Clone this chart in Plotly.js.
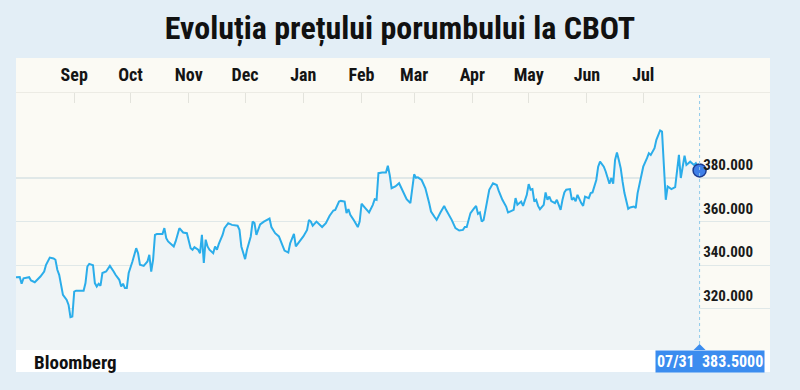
<!DOCTYPE html>
<html>
<head>
<meta charset="utf-8">
<script src="https://cdn.plot.ly/plotly-3.0.1.min.js"></script>
<style>
  html, body { margin: 0; padding: 0; background: #e3eef6; }
  #chart { width: 800px; height: 390px; }
</style>
</head>
<body>
<div id="chart"></div>
<script>
// ---- data (CBOT corn) ----
const dates = [
  "2016-08-01","2016-08-03","2016-08-04","2016-08-05","2016-08-08","2016-08-09","2016-08-11","2016-08-14","2016-08-16","2016-08-17",
  "2016-08-19","2016-08-21","2016-08-22","2016-08-23","2016-08-24","2016-08-25","2016-08-26","2016-08-28","2016-08-29","2016-08-30",
  "2016-08-31","2016-09-01","2016-09-02","2016-09-06","2016-09-07","2016-09-08","2016-09-09","2016-09-11","2016-09-12","2016-09-13",
  "2016-09-14","2016-09-15","2016-09-16","2016-09-18","2016-09-20","2016-09-22","2016-09-23","2016-09-25","2016-09-26","2016-09-27",
  "2016-09-28","2016-09-29","2016-09-30","2016-10-02","2016-10-04","2016-10-05","2016-10-06","2016-10-08","2016-10-10","2016-10-11",
  "2016-10-12","2016-10-13","2016-10-14","2016-10-15","2016-10-18","2016-10-19","2016-10-20","2016-10-21","2016-10-24","2016-10-25",
  "2016-10-27","2016-10-29","2016-10-31","2016-11-02","2016-11-03","2016-11-04","2016-11-06","2016-11-07","2016-11-08","2016-11-09",
  "2016-11-10","2016-11-11","2016-11-12","2016-11-14","2016-11-15","2016-11-16","2016-11-17","2016-11-19","2016-11-20","2016-11-22",
  "2016-11-24","2016-11-27","2016-11-28","2016-11-29","2016-11-30","2016-12-01","2016-12-02","2016-12-04","2016-12-05","2016-12-06",
  "2016-12-07","2016-12-09","2016-12-11","2016-12-13","2016-12-14","2016-12-15","2016-12-17","2016-12-19","2016-12-21","2016-12-22",
  "2016-12-24","2016-12-25","2016-12-27","2016-12-28","2016-12-30","2017-01-01","2017-01-03","2017-01-04","2017-01-05","2017-01-06",
  "2017-01-08","2017-01-11","2017-01-13","2017-01-15","2017-01-17","2017-01-18","2017-01-20","2017-01-21","2017-01-23","2017-01-24",
  "2017-01-25","2017-01-26","2017-01-28","2017-01-30","2017-01-31","2017-02-01","2017-02-03","2017-02-05","2017-02-07","2017-02-08",
  "2017-02-09","2017-02-10","2017-02-12","2017-02-14","2017-02-15","2017-02-16","2017-02-17","2017-02-19","2017-02-21","2017-02-23",
  "2017-02-25","2017-02-27","2017-02-28","2017-03-01","2017-03-02","2017-03-03","2017-03-05","2017-03-07","2017-03-09","2017-03-10",
  "2017-03-12","2017-03-13","2017-03-15","2017-03-17","2017-03-18","2017-03-21","2017-03-23","2017-03-25","2017-03-27","2017-03-28",
  "2017-03-29","2017-03-31","2017-04-02","2017-04-03","2017-04-04","2017-04-05","2017-04-06","2017-04-07","2017-04-09","2017-04-10",
  "2017-04-12","2017-04-14","2017-04-15","2017-04-17","2017-04-19","2017-04-20","2017-04-21","2017-04-23","2017-04-24","2017-04-25",
  "2017-04-27","2017-04-28","2017-04-30","2017-05-01","2017-05-02","2017-05-03","2017-05-04","2017-05-05","2017-05-06","2017-05-07",
  "2017-05-09","2017-05-10","2017-05-11","2017-05-12","2017-05-13","2017-05-15","2017-05-16","2017-05-17","2017-05-18","2017-05-19",
  "2017-05-20","2017-05-21","2017-05-23","2017-05-24","2017-05-25","2017-05-26","2017-05-27","2017-05-29","2017-05-30","2017-05-31",
  "2017-06-02","2017-06-03","2017-06-04","2017-06-06","2017-06-07","2017-06-08","2017-06-10","2017-06-11","2017-06-12","2017-06-13",
  "2017-06-14","2017-06-15","2017-06-16","2017-06-17","2017-06-18","2017-06-19","2017-06-20","2017-06-21","2017-06-23","2017-06-24",
  "2017-06-26","2017-06-27","2017-06-28","2017-06-30","2017-07-01","2017-07-03","2017-07-04","2017-07-05","2017-07-07","2017-07-08",
  "2017-07-10","2017-07-11","2017-07-12","2017-07-13","2017-07-14","2017-07-15","2017-07-16","2017-07-18","2017-07-19","2017-07-20",
  "2017-07-21","2017-07-22","2017-07-23","2017-07-24","2017-07-25","2017-07-26","2017-07-28","2017-07-29","2017-07-31"
];
const prices = [
  334.5,334.6,331.5,334.0,334.5,333.0,332.2,334.8,337.1,340.2,
  343.5,343.1,342.5,337.9,335.6,330.2,326.4,324.1,321.8,316.2,
  316.5,327.9,328.3,328.3,331.8,339.4,340.6,340.0,331.8,330.2,
  331.5,330.6,336.4,337.1,339.7,337.1,335.6,333.3,330.2,331.5,
  329.5,329.5,336.4,341.7,347.8,345.5,340.2,339.7,341.7,344.8,
  337.1,342.5,353.9,354.3,354.3,357.0,352.4,350.9,348.6,350.9,
  357.0,355.0,354.7,347.8,347.1,348.3,347.1,345.5,353.9,341.0,
  351.7,348.6,347.1,345.5,348.6,347.1,349.8,353.9,357.0,359.3,
  358.5,358.1,356.2,348.6,345.5,342.8,347.1,353.2,360.0,359.3,
  353.9,358.7,360.0,360.8,361.4,357.5,354.7,353.2,348.6,346.7,
  345.8,350.1,354.4,348.6,350.9,353.2,356.2,360.8,360.0,358.1,
  360.0,357.5,359.3,362.7,365.1,365.4,369.2,369.5,369.2,363.9,
  365.7,363.1,360.5,357.5,360.0,368.2,366.2,364.2,367.7,370.3,
  370.0,382.2,382.5,382.5,385.6,381.4,375.3,376.1,377.6,373.8,
  370.3,368.5,376.1,381.7,380.1,380.3,379.1,375.3,368.5,364.6,
  362.0,360.8,364.2,367.2,365.4,360.8,357.0,355.9,356.2,357.5,
  357.5,363.9,366.2,367.2,363.6,364.2,360.0,360.8,370.0,374.6,
  377.6,376.8,374.2,370.0,366.9,364.2,364.6,365.4,370.8,367.7,
  369.2,367.2,372.3,377.2,374.6,374.9,369.2,370.0,367.2,365.7,
  367.7,373.4,370.0,371.5,369.4,368.5,370.0,367.7,365.4,370.0,
  373.4,374.6,374.9,370.0,370.8,369.4,372.3,368.5,367.2,371.5,
  370.8,373.1,373.4,379.1,385.2,387.5,385.2,383.0,380.0,377.4,
  380.0,377.4,388.3,391.7,388.3,384.5,378.3,373.1,365.9,366.5,
  366.9,366.2,373.1,381.4,385.2,389.1,391.4,390.6,393.7,397.5,
  401.8,401.3,386.8,370.0,376.1,375.3,374.9,375.8,383.7,390.6,
  380.0,385.2,390.2,386.0,386.8,387.5,386.0,386.8,383.5
];
const monthTicks  = ["2016-09-01","2016-10-01","2016-11-01","2016-12-01","2017-01-01","2017-02-01","2017-03-01","2017-04-01","2017-05-01","2017-06-01","2017-07-01"];
const monthLabels = ["Sep","Oct","Nov","Dec","Jan","Feb","Mar","Apr","May","Jun","Jul"];
const priceTicks  = [320, 340, 360, 380];
const titleText   = "Evoluția prețului porumbului la CBOT";
const sourceText  = "Bloomberg";

// ---- derived ----
const lastDate  = dates[dates.length - 1];
const lastValue = prices[prices.length - 1];
const lastLabel = lastDate.slice(5).replace("-", "/") + "  " + lastValue.toFixed(4);

const FONT = "'Roboto Condensed', 'DejaVu Sans Condensed', sans-serif";
const LINE = "#2badea";
const BOXBLUE = "#3b8cef";

const traces = [
  {
    type: "scatter", mode: "lines",
    x: dates, y: prices,
    line: { color: LINE, width: 2 },
    fill: "tozeroy", fillcolor: "#eff4f6",
    hoverinfo: "skip"
  },
  {
    type: "scatter", mode: "markers",
    x: [lastDate], y: [lastValue],
    marker: { size: 13, color: "#3f7fe8", line: { color: "#1d3c8f", width: 1.5 } },
    hoverinfo: "skip"
  }
];

const layout = {
  width: 800, height: 390,
  margin: { l: 16, r: 30, t: 93, b: 40, pad: 0 },
  paper_bgcolor: "#e3eef6",
  plot_bgcolor: "#fbfaf4",
  showlegend: false,
  hovermode: false,
  title: {
    text: titleText,
    x: 0.5, xref: "container", xanchor: "center",
    y: 0.928, yref: "container", yanchor: "middle",
    font: { family: FONT, size: 32, weight: 700, color: "#111111" }
  },
  xaxis: {
    type: "date",
    range: ["2016-08-01", "2017-09-06 12:00"],
    side: "top",
    tickvals: monthTicks, ticktext: monthLabels,
    ticks: "inside", ticklen: 10, tickcolor: "#e3e3dc", tickwidth: 1,
    ticklabelstandoff: 4,
    tickfont: { family: FONT, size: 18, weight: 700, color: "#141414" },
    showgrid: false, zeroline: false,
    showline: true, linecolor: "#ecebe4", linewidth: 1,
    fixedrange: true
  },
  yaxis: {
    range: [301.1, 419],
    side: "right",
    tickvals: priceTicks, tickformat: ".3f",
    ticklabelposition: "inside",
    ticklabelshift: -13,
    ticklabelstandoff: 14,
    ticks: "",
    tickfont: { family: FONT, size: 15, weight: 700, color: "#1a1a1a" },
    showgrid: true, gridcolor: "#e0e8e8", gridwidth: 1.2,
    zeroline: false, showline: false,
    fixedrange: true
  },
  shapes: [
    { type: "rect", xref: "paper", yref: "paper", x0: 0, x1: 1, y0: 1, y1: 1.136,
      fillcolor: "#fbfaf4", line: { width: 0 }, layer: "below" },
    { type: "rect", xref: "paper", yref: "paper", x0: 0, x1: 1, y0: -0.0856, y1: 0,
      fillcolor: "#ffffff", line: { width: 0 }, layer: "below" },
    { type: "line", xref: "x", yref: "paper", x0: lastDate, x1: lastDate, y0: 0, y1: 1,
      line: { color: "#8fc9ea", width: 1, dash: "dot" }, layer: "above" },
    { type: "path", xref: "x", yref: "paper", xsizemode: "pixel", ysizemode: "pixel",
      xanchor: lastDate, yanchor: 0, path: "M-6,0 L6,0 L0,6 Z",
      fillcolor: BOXBLUE, line: { width: 0 }, layer: "above" }
  ],
  annotations: [
    { text: sourceText, xref: "paper", yref: "paper", x: 0, y: 0,
      xanchor: "left", yanchor: "top", xshift: 16, yshift: 1, showarrow: false,
      font: { family: FONT, size: 19, weight: 700, color: "#111111" } },
    { text: lastLabel, xref: "x", yref: "paper", x: lastDate, y: 0,
      xanchor: "center", yanchor: "top", xshift: 10, showarrow: false,
      bgcolor: BOXBLUE, borderpad: 1,
      font: { family: FONT, size: 16, weight: 700, color: "#ffffff" } }
  ]
};

Plotly.newPlot("chart", traces, layout, { displayModeBar: false, staticPlot: true });
</script>
</body>
</html>
